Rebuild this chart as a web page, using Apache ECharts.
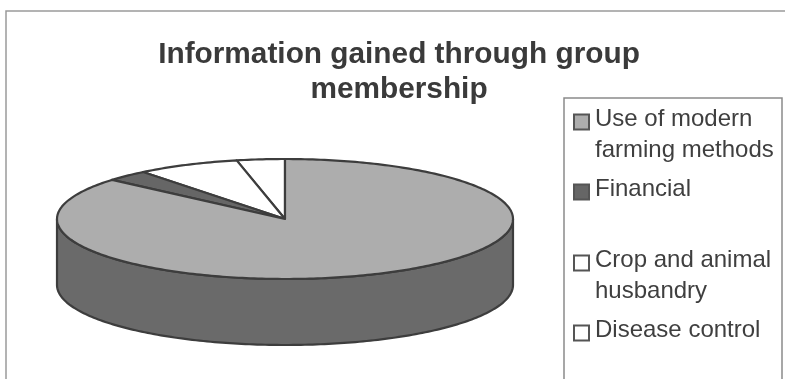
<!DOCTYPE html>
<html><head><meta charset="utf-8">
<style>html,body{margin:0;padding:0;background:#fff}#c{width:785px;height:379px}</style>
<script src="https://cdn.jsdelivr.net/npm/echarts@6/dist/echarts.min.js"></script>
</head><body><div id="c"></div>
<script>
const titleText = 'Information gained through group\nmembership';
const categories = ['Use of modern farming methods', 'Financial', 'Crop and animal husbandry', 'Disease control'];
const legendLabels = ['\nUse of modern\nfarming methods', 'Financial', '\nCrop and animal\nhusbandry', 'Disease control'];
const values = [86.3, 3.0, 7.3, 3.4];
const fills = ['#adadad', '#666666', '#ffffff', '#ffffff'];
const legendTops = [73, 174, 214, 315];

const cx = 285, cy = 219, rx = 228, ry = 60, depth = 66;
const total = values.reduce((a, b) => a + b, 0);
const pt = (deg, dy = 0) => {
  const r = deg * Math.PI / 180;
  return [cx + rx * Math.sin(r), cy - ry * Math.cos(r) + dy];
};
const arc = (a, b, dy = 0) => {
  const out = [], n = Math.max(2, Math.ceil(Math.abs(b - a)));
  for (let i = 0; i <= n; i++) out.push(pt(a + (b - a) * i / n, dy));
  return out;
};
const stroke = '#3d3d3d';
let cum = 0;
const series = categories.map((name, i) => {
  const start = cum; cum += values[i];
  return {
    type: 'custom', name, coordinateSystem: 'none', z: 2,
    itemStyle: { color: fills[i], borderColor: '#555', borderWidth: 1.5 },
    data: [[values[i], start]],
    renderItem(params, api) {
      const a0 = api.value(1) / total * 360;
      const a1 = a0 + api.value(0) / total * 360;
      const children = [];
      const s0 = Math.max(a0, 90), s1 = Math.min(a1, 270);
      if (s1 > s0) {
        children.push({
          type: 'polygon',
          shape: { points: arc(s0, s1).concat(arc(s1, s0, depth)) },
          style: { fill: i === 0 ? '#6a6a6a' : fills[i], stroke, lineWidth: 2.2 }
        });
      }
      children.push({
        type: 'polygon',
        shape: { points: [[cx, cy]].concat(arc(a0, a1)) },
        style: { fill: fills[i], stroke, lineWidth: 2.2, lineJoin: 'round' }
      });
      return { type: 'group', children };
    }
  };
}).reverse();

const chart = echarts.init(document.getElementById('c'), null, { renderer: 'canvas' });
chart.setOption({
  backgroundColor: '#ffffff',
  animation: false,
  title: {
    text: titleText, left: 394, top: 32, textAlign: 'center',
    textStyle: { fontFamily: 'Liberation Sans', fontWeight: 'bold', fontSize: 29.8, color: '#3a3a3a', lineHeight: 35 }
  },
  legend: categories.map((name, i) => ({
    data: [name], left: 573, top: legendTops[i], orient: 'vertical', selectedMode: false, padding: 0,
    icon: 'path://M0 0L0 0M0 5H15V20H0Z', itemWidth: 15, itemHeight: 20, itemGap: 0,
    formatter: () => legendLabels[i],
    textStyle: { fontFamily: 'Liberation Sans', fontSize: 24, lineHeight: 31, color: '#3f3f3f', padding: [0, 0, 0, 1] }
  })),
  graphic: [
    { type: 'polyline', z: 0, shape: { points: [[6, 379], [6, 11], [785, 11]] }, style: { fill: 'none', stroke: '#9a9a9a', lineWidth: 1.5 } },
    { type: 'polyline', z: 0, shape: { points: [[564, 379], [564, 98], [782, 98], [782, 379]] }, style: { fill: 'none', stroke: '#8a8a8a', lineWidth: 1.5 } }
  ],
  series
});
</script></body></html>
